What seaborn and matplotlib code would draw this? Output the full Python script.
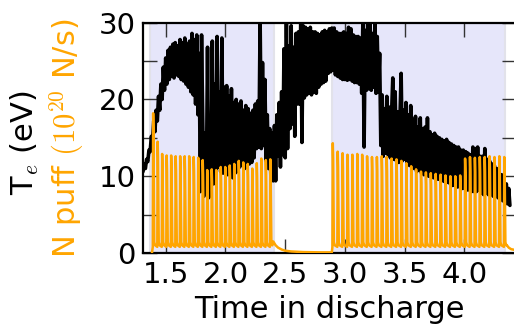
import numpy as np
import pandas as pd
import seaborn as sns
import matplotlib
matplotlib.use('Agg')
import matplotlib.pyplot as plt
from matplotlib.ticker import MultipleLocator

# Te trace, one value every 10 ms from 1.31 s
te_start = 1.31
te_values = [
    10.6, 11.6, 11.0, 12.2, 11.9, 13.4, 13.2, 15.2, 14.6, 17.2,
    15.8, 18.6, 17.2, 20.4, 18.6, 22.0, 20.0, 24.2, 21.2, 25.4,
    22.0, 26.4, 22.6, 26.8, 23.0, 27.2, 22.8, 27.4, 23.2, 27.0,
    23.0, 27.8, 22.6, 27.4, 22.4, 28.0, 22.0, 27.2, 21.6, 27.6,
    21.0, 28.6, 20.6, 27.8, 19.4, 28.4, 18.0, 26.0, 8.0, 28.4,
    17.0, 7.4, 15.6, 8.2, 26.8, 7.2, 16.4, 9.6, 27.6, 9.0,
    22.0, 10.8, 28.2, 11.2, 21.0, 10.6, 28.0, 10.4, 21.6, 10.6,
    21.8, 10.2, 20.4, 11.0, 21.4, 9.8, 19.6, 10.4, 20.0, 10.6,
    19.4, 11.2, 19.8, 11.8, 18.6, 11.0, 19.2, 11.2, 18.8, 11.6,
    18.2, 11.8, 18.6, 12.4, 19.4, 13.6, 19.8, 13.8, 30.5, 13.6,
    24.8, 14.0, 22.6, 12.0, 18.0, 11.0, 16.2, 9.8, 15.6, 9.4,
    16.6, 9.4, 18.0, 12.6, 19.6, 11.2, 21.0, 12.8, 26.6, 12.4,
    31.0, 13.6, 27.0, 16.2, 29.6, 16.8, 26.8, 15.2, 28.6, 19.4,
    28.8, 19.4, 30.5, 14.4, 29.6, 20.2, 29.4, 20.6, 29.2, 20.8,
    29.4, 20.6, 28.8, 21.0, 28.8, 20.8, 28.6, 21.6, 28.4, 22.0,
    28.8, 22.2, 29.0, 22.4, 28.8, 23.4, 29.2, 23.6, 29.3, 23.8,
    29.3, 23.2, 28.8, 23.0, 28.6, 22.8, 28.6, 22.6, 28.8, 22.6,
    28.6, 22.5, 29.4, 22.6, 29.2, 22.4, 28.4, 22.2, 28.2, 22.2,
    28.2, 22.0, 28.0, 20.8, 30.4, 13.8, 29.0, 21.2, 30.2, 21.4,
    30.0, 21.2, 28.6, 21.6, 29.8, 20.8, 28.2, 21.0, 26.0, 14.0,
    20.6, 12.6, 18.8, 13.0, 20.4, 12.8, 19.0, 12.4, 18.2, 22.8,
    12.2, 21.0, 12.0, 18.4, 11.8, 17.6, 23.4, 12.0, 18.6, 12.2,
    19.6, 11.6, 18.0, 11.4, 19.2, 11.2, 17.4, 11.0, 17.8, 10.6,
    16.4, 10.8, 17.6, 10.4, 16.2, 10.2, 16.4, 10.2, 17.6, 10.0,
    15.8, 10.0, 15.4, 9.8, 15.6, 9.8, 15.2, 9.6, 15.0, 9.6,
    14.8, 9.4, 14.6, 9.2, 14.8, 9.2, 14.4, 9.0, 14.2, 8.8,
    14.0, 8.8, 13.8, 8.6, 13.8, 8.6, 13.4, 8.4, 13.4, 8.4,
    13.2, 8.2, 13.0, 8.2, 12.8, 8.0, 13.8, 8.0, 13.6, 8.0,
    13.8, 8.2, 12.6, 7.8, 12.6, 7.6, 13.6, 7.8, 12.2, 7.6,
    12.0, 7.6, 11.6, 7.4, 11.4, 7.4, 11.0, 7.2, 10.6, 7.0,
    10.2, 6.8, 9.6, 6.6, 9.0, 6.4, 8.4, 6.2,
]

# N puff pulses: first pulse time, pulse period, peak heights
puff1_start, puff1_period = 1.392, 0.0377
puff1_peaks = [18.2, 14.5, 12.9, 12.7, 12.7, 12.6, 12.6, 12.6, 12.6, 12.5,
               12.4, 12.1, 10.8, 10.9, 10.8, 11.2, 11.2, 11.4, 11.6, 12.0,
               11.8, 11.6, 11.0, 11.7, 12.3, 12.1, 12.2]
puff2_start, puff2_period = 2.895, 0.041
puff2_peaks = [14.3, 13.2, 13.0, 12.8, 12.8, 12.9, 12.8, 12.6, 12.5, 12.5,
               12.6, 12.5, 12.3, 12.2, 12.0, 11.7, 11.3, 10.9, 10.6, 10.5,
               10.4, 10.3, 10.2, 10.1, 10.0, 10.0, 10.1, 12.3, 12.5, 12.4,
               12.5, 12.5, 12.6, 12.5, 12.6, 12.5]
puff_base = 0.8
# puff level after each pulse train
decay1_t = [2.40, 2.42, 2.44, 2.47, 2.50, 2.55, 2.65, 2.80, 2.89]
decay1_v = [1.5, 1.0, 0.7, 0.45, 0.3, 0.2, 0.12, 0.08, 0.08]
decay2_t = [4.355, 4.37, 4.39, 4.42, 4.45]
decay2_v = [1.0, 0.7, 0.5, 0.4, 0.35]

# shaded intervals
shade_spans = [(1.37, 2.405), (2.895, 4.34)]

te = pd.DataFrame({'t': np.round(te_start + 0.01 * np.arange(len(te_values)), 3),
                   'Te': te_values})


def pulse_train(start, period, peaks):
    tt, vv = [], []
    for k, p in enumerate(peaks):
        t0 = start + k * period
        tt += [t0, t0 + 0.003, t0 + 0.006, t0 + 0.012, t0 + 0.02]
        vv += [puff_base, p, p * 0.85, puff_base + 0.6, puff_base + 0.2]
    return tt, vv


t1, v1 = pulse_train(puff1_start, puff1_period, puff1_peaks)
t2, v2 = pulse_train(puff2_start, puff2_period, puff2_peaks)
puff = pd.DataFrame({'t': [1.385] + t1 + decay1_t + t2 + decay2_t,
                     'N': [0.0] + v1 + decay1_v + v2 + decay2_v})

sns.set_style('ticks')
plt.rcParams['font.family'] = ['DejaVu Sans']
plt.rcParams['mathtext.fontset'] = 'cm'
for k in ['text.color', 'axes.labelcolor', 'xtick.color', 'ytick.color', 'axes.edgecolor']:
    plt.rcParams[k] = 'black'

fig = plt.figure(figsize=(5.14, 3.35), dpi=100)
ax = fig.add_axes([0.2776, 0.2448, 0.7263, 0.6875])

for a, b in shade_spans:
    ax.axvspan(a, b, facecolor='lavender', edgecolor='#e2e2ea', linewidth=1.5, zorder=0)

sns.lineplot(data=te, x='t', y='Te', color='black', linewidth=2.6,
             estimator=None, sort=False, ax=ax, zorder=2)
sns.lineplot(data=puff, x='t', y='N', color='orange', linewidth=1.8,
             estimator=None, sort=False, ax=ax, zorder=3)

ax.set_xlim(1.3075, 4.431)
ax.set_ylim(0, 30)
ax.xaxis.set_major_locator(MultipleLocator(0.5))
ax.yaxis.set_major_locator(MultipleLocator(10))
ax.yaxis.set_minor_locator(MultipleLocator(5))
ax.tick_params(axis='both', which='both', direction='in', top=True, right=True,
               length=10, width=1.0, labelsize=21)
ax.tick_params(axis='both', which='both', color='#333333')
ax.tick_params(axis='x', pad=6)
ax.tick_params(axis='y', pad=5)
for s in ax.spines.values():
    s.set_linewidth(1.6)

ax.set_xlabel('Time in discharge', fontsize=22, labelpad=4)
ax.set_ylabel('')

fig.text(0.0486, 0.573, r'T$_e$ (eV)', rotation=90, fontsize=22,
         ha='center', va='center', color='black')
fig.text(0.130, 0.588, r'N puff $(10^{20}$ N/s)', rotation=90, fontsize=22,
         ha='center', va='center', color='orange')

fig.savefig('out.png', dpi=100)
